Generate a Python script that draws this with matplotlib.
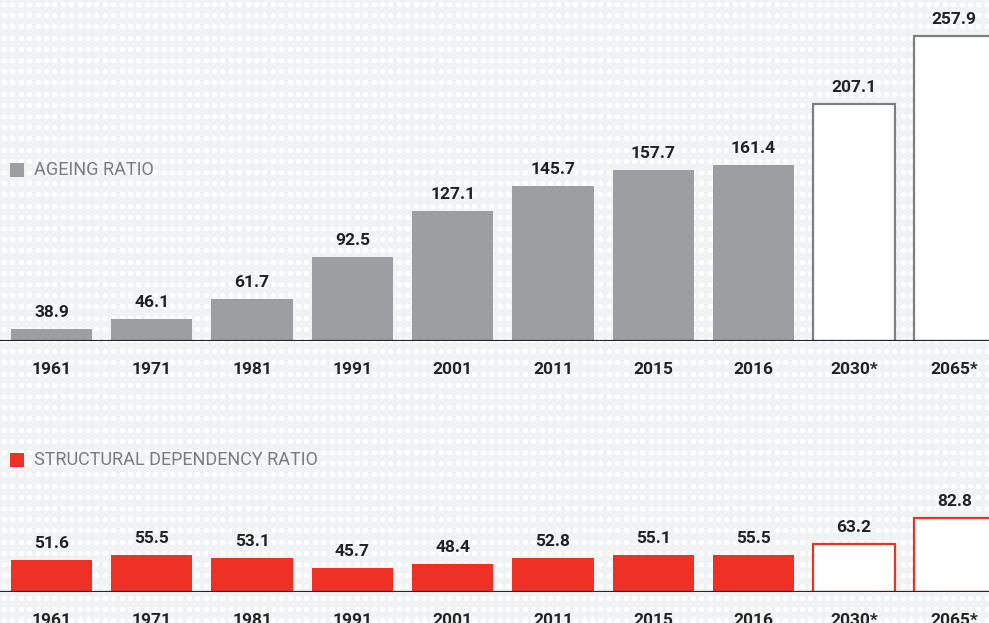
import matplotlib.pyplot as plt
import numpy as np

years = ['1961', '1971', '1981', '1991', '2001', '2011', '2015', '2016', '2030*', '2065*']
ageing = [38.9, 46.1, 61.7, 92.5, 127.1, 145.7, 157.7, 161.4, 207.1, 257.9]
dependency = [51.6, 55.5, 53.1, 45.7, 48.4, 52.8, 55.1, 55.5, 63.2, 82.8]
projected = [False] * 8 + [True] * 2

W, H = 989, 623
GREY = '#9d9ea2'
RED = '#ee3124'
BG = '#f1f2f4'

plt.rcParams['font.family'] = ['Roboto', 'DejaVu Sans']

fig = plt.figure(figsize=(W / 100, H / 100), dpi=100)
fig.patch.set_facecolor(BG)

# dotted background
bg = fig.add_axes([0, 0, 1, 1])
bg.set_xlim(0, W)
bg.set_ylim(H, 0)
bg.axis('off')
gx, gy = np.meshgrid(np.arange(4, W, 8.4), np.arange(4, H, 11.2))
bg.scatter(gx.ravel(), gy.ravel(), s=16, color='white', linewidths=0)

px = 1.337  # pixels per unit, both panels


def panel(rect_px, lower, values, color, edge, label, legend_y):
    top, base = rect_px
    ax = fig.add_axes([0, 1 - base / H, 1, (base - top) / H])
    ax.set_facecolor('none')
    x = np.arange(len(years))
    for i, (v, p) in enumerate(zip(values, projected)):
        if p:
            ax.bar(i, v - lower, bottom=lower, width=0.81, color='white',
                   edgecolor=edge, linewidth=1.6)
        else:
            ax.bar(i, v - lower, bottom=lower, width=0.81, color=color, linewidth=0)
        ax.annotate(f'{v:.1f}', (i, v), xytext=(0, 6.5), textcoords='offset points',
                    ha='center', va='bottom', fontsize=12.5, fontweight='bold', color='#222222')
    ax.axhline(lower, color='#262626', linewidth=2.3, zorder=5)
    ax.set_xlim(-0.513, 9.347)
    ax.set_ylim(lower, lower + (base - top) / px)
    ax.set_xticks(x, years)
    ax.tick_params(axis='x', length=0, pad=15, labelsize=12.5, labelcolor='#222222')
    for t in ax.get_xticklabels():
        t.set_fontweight('bold')
    ax.set_yticks([])
    for s in ax.spines.values():
        s.set_visible(False)
    fig.patches.append(plt.Rectangle((10 / W, 1 - (legend_y + 7) / H), 14 / W, 14 / H,
                                     transform=fig.transFigure, color=color, lw=0))
    fig.text(34 / W, 1 - legend_y / H, label, fontsize=13, color='#7b7b7e',
             va='center', ha='left')
    return ax


panel((0, 341), 30, ageing, GREY, '#7f7f83', 'AGEING RATIO', 170)
panel((440, 592), 27.5, dependency, RED, RED, 'STRUCTURAL DEPENDENCY RATIO', 460)

fig.savefig('out.png', dpi=100, facecolor=BG)
